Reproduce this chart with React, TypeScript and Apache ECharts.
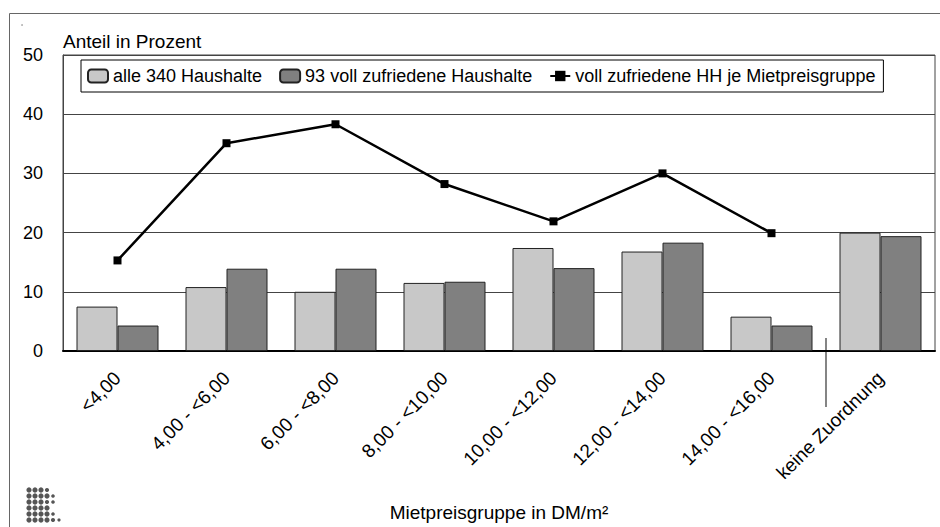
import React, { useEffect, useRef } from "react";
import * as echarts from "echarts";

const categories = [
  "<4,00",
  "4,00 - <6,00",
  "6,00 - <8,00",
  "8,00 - <10,00",
  "10,00 - <12,00",
  "12,00 - <14,00",
  "14,00 - <16,00",
  "keine Zuordnung",
];
const alleHaushalte = [7.5, 10.8, 10.0, 11.5, 17.4, 16.8, 5.8, 20.0];
const vollZufrieden = [4.3, 13.9, 13.9, 11.7, 14.0, 18.3, 4.3, 19.4];
const jeGruppe: (number | null)[] = [15.3, 35.1, 38.3, 28.2, 21.9, 30.0, 19.9, null];
const yTicks = { min: 0, max: 50, interval: 10 };

const FONT = "'Liberation Sans', Arial, Helvetica, sans-serif";

// logo dot pattern: [col, row, radius]
const logoDots: [number, number, number][] = [
  [0, 0, 2.6], [1, 0, 2.6], [2, 0, 2.6], [3, 0, 2.1],
  [0, 1, 2.6], [1, 1, 2.6], [2, 1, 2.6], [3, 1, 2.6], [4, 1, 1.8],
  [0, 2, 2.6], [1, 2, 2.6], [2, 2, 2.6], [3, 2, 2.1], [4, 2, 1.8],
  [0, 3, 2.6], [1, 3, 2.6], [2, 3, 2.6], [3, 3, 2.6],
  [0, 4, 2.6], [1, 4, 2.6], [2, 4, 2.6], [3, 4, 2.6], [4, 4, 1.8],
  [0, 5, 2.6], [1, 5, 2.6], [2, 5, 2.6], [3, 5, 2.6], [4, 5, 2.1], [5, 5, 1.6],
];

export default function App() {
  const ref = useRef<HTMLDivElement>(null);
  useEffect(() => {
    document.body.style.margin = "0";
    if (!ref.current) return;
    const chart = echarts.init(ref.current, undefined, { renderer: "svg" });
    const logo = logoDots.map(([c, r, rad]) => ({
      type: "circle",
      shape: { cx: 29 + c * 6, cy: 490 + r * 6, r: rad },
      style: { fill: "#555" },
      silent: true,
    }));
    chart.setOption({
      animation: false,
      backgroundColor: "#fff",
      textStyle: { fontFamily: FONT, color: "#000" },
      grid: {
        left: 63,
        right: 5,
        top: 55,
        bottom: 176,
        containLabel: false,
        outerBoundsMode: "none",
        show: true,
        borderColor: "#444",
        borderWidth: 1,
      },
      legend: {
        left: 81,
        top: 60,
        padding: [7, 8, 7, 6],
        itemGap: 17,
        itemWidth: 20,
        itemHeight: 13,
        borderColor: "#000",
        borderWidth: 1,
        backgroundColor: "#fff",
        textStyle: { fontFamily: FONT, fontSize: 18, color: "#000" },
        data: [
          { name: "alle 340 Haushalte" },
          { name: "93 voll zufriedene Haushalte" },
          { name: "voll zufriedene HH je Mietpreisgruppe" },
        ],
      },
      xAxis: {
        type: "category",
        data: categories,
        boundaryGap: true,
        axisLine: { show: true, lineStyle: { color: "#000", width: 2 } },
        axisTick: { show: false },
        axisLabel: {
          rotate: 45,
          interval: 0,
          margin: 24,
          fontSize: 19,
          fontFamily: FONT,
          color: "#000",
        },
        name: "Mietpreisgruppe in DM/m²",
        nameLocation: "middle",
        nameGap: 152,
        nameTextStyle: { fontFamily: FONT, fontSize: 19, color: "#000" },
      },
      yAxis: {
        type: "value",
        min: yTicks.min,
        max: yTicks.max,
        interval: yTicks.interval,
        axisLine: { show: true, lineStyle: { color: "#444", width: 1 } },
        axisTick: { show: false },
        splitLine: { show: true, lineStyle: { color: "#444", width: 1 } },
        axisLabel: { fontSize: 18, fontFamily: FONT, color: "#000", margin: 20 },
        name: "Anteil in Prozent",
        nameLocation: "end",
        nameGap: 4,
        nameTextStyle: {
          fontFamily: FONT,
          fontSize: 19,
          color: "#000",
          align: "left",
          verticalAlign: "bottom",
        },
      },
      series: [
        {
          name: "alle 340 Haushalte",
          type: "bar",
          data: alleHaushalte,
          barWidth: 41,
          barGap: "0%",
          itemStyle: { color: "#c8c8c8", borderColor: "#222", borderWidth: 1 },
        },
        {
          name: "93 voll zufriedene Haushalte",
          type: "bar",
          data: vollZufrieden,
          barWidth: 41,
          barGap: "0%",
          itemStyle: { color: "#808080", borderColor: "#222", borderWidth: 1 },
        },
        {
          name: "voll zufriedene HH je Mietpreisgruppe",
          type: "line",
          data: jeGruppe,
          connectNulls: false,
          symbol: "rect",
          symbolSize: 8,
          lineStyle: { color: "#000", width: 2.5 },
          itemStyle: { color: "#000" },
          z: 5,
        },
      ],
      graphic: [
        {
          type: "line",
          shape: { x1: 9.5, y1: 13.5, x2: 940, y2: 13.5 },
          style: { stroke: "#666", lineWidth: 1 },
          silent: true,
        },
        {
          type: "line",
          shape: { x1: 9.5, y1: 13.5, x2: 9.5, y2: 527 },
          style: { stroke: "#666", lineWidth: 1 },
          silent: true,
        },
        {
          type: "circle",
          shape: { cx: 22, cy: 25, r: 0.7 },
          style: { fill: "#666" },
          silent: true,
        },
        {
          type: "line",
          shape: { x1: 826, y1: 338, x2: 826, y2: 407 },
          style: { stroke: "#333", lineWidth: 1.2 },
          silent: true,
        },
        ...logo,
      ],
    });
    return () => chart.dispose();
  }, []);
  return <div ref={ref} style={{ width: 940, height: 527 }} />;
}
